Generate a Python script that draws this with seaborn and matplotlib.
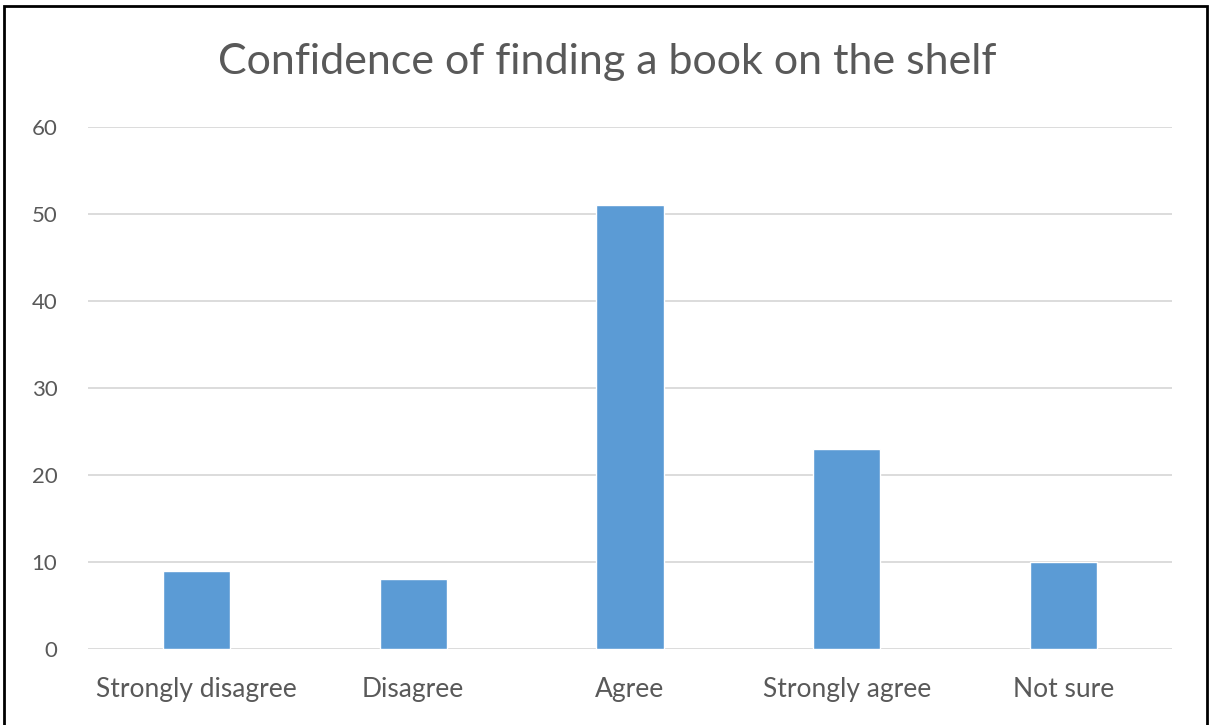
import matplotlib
matplotlib.use("Agg")
import matplotlib.pyplot as plt
from matplotlib.patches import Rectangle
import seaborn as sns
import pandas as pd

categories = ["Strongly disagree", "Disagree", "Agree", "Strongly agree", "Not sure"]
counts = [9, 8, 51, 23, 10]
y_ticks = [0, 10, 20, 30, 40, 50, 60]

sns.set_theme(style="white")
plt.rcParams["font.family"] = ["Lato", "DejaVu Sans"]

df = pd.DataFrame({"response": categories, "count": counts})

fig = plt.figure(figsize=(12.14, 7.25), dpi=100)
ax = fig.add_axes([88 / 1214, 1 - 649 / 725, (1172 - 88) / 1214, (649 - 127) / 725])

sns.barplot(data=df, x="response", y="count", color="#5B9BD5", width=0.31,
            saturation=1, ax=ax, zorder=3)

ax.set_ylim(0, 60)
ax.set_yticks(y_ticks)
ax.set_xlim(-0.5, len(categories) - 0.5)
ax.grid(axis="y", color="#D9D9D9", linewidth=1.3, zorder=0)
ax.grid(axis="x", visible=False)
for s in ax.spines.values():
    s.set_visible(False)
ax.set_xlabel("")
ax.set_ylabel("")
ax.tick_params(axis="both", length=0, labelcolor="#595959")
ax.tick_params(axis="y", pad=22, labelsize=16)
ax.tick_params(axis="x", pad=20, labelsize=19)

fig.text(0.5, 1 - 62 / 725, "Confidence of finding a book on the shelf",
         ha="center", va="center", fontsize=31, color="#595959")

# outer frame
fig.patches.append(Rectangle((4 / 1214, -0.02), (1207 - 4) / 1214, 1 - 6 / 725 + 0.02,
                             transform=fig.transFigure, fill=False,
                             edgecolor="black", linewidth=2))

fig.savefig("out.png", dpi=100)
